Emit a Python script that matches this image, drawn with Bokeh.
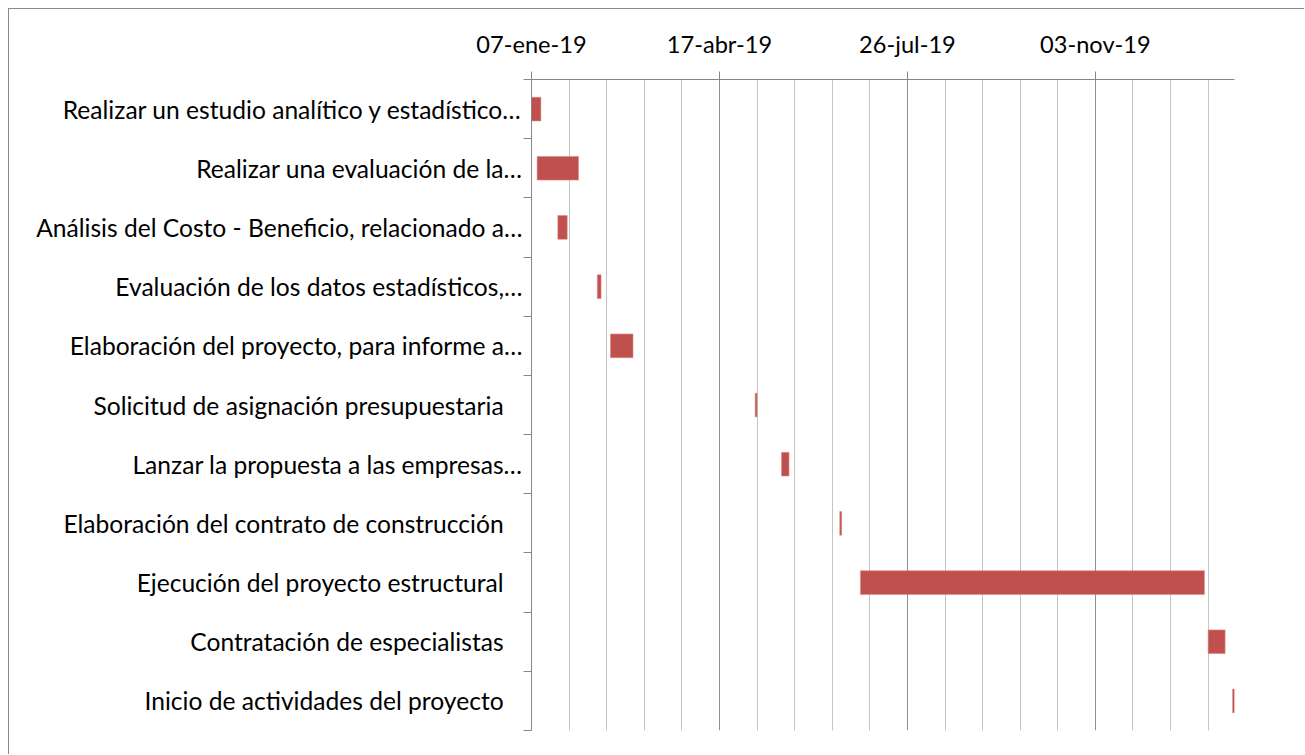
import pandas as pd
from bokeh.plotting import figure
from bokeh.models import Range1d, FixedTicker
from bokeh.embed import file_html
from bokeh.resources import INLINE

# ---- data -------------------------------------------------------------
tasks = [
    "Realizar un estudio analítico y estadístico…",
    "Realizar una evaluación de la…",
    "Análisis del Costo - Beneficio, relacionado a…",
    "Evaluación de los datos estadísticos,…",
    "Elaboración del proyecto, para informe a…",
    "Solicitud de asignación presupuestaria",
    "Lanzar la propuesta a las empresas…",
    "Elaboración del contrato de construcción",
    "Ejecución del proyecto estructural",
    "Contratación de especialistas",
    "Inicio de actividades del proyecto",
]
start_dates = [
    "2019-01-07", "2019-01-10", "2019-01-21", "2019-02-11", "2019-02-18",
    "2019-05-06", "2019-05-20", "2019-06-20", "2019-07-01", "2020-01-02",
    "2020-01-15",
]
durations = [5, 22, 5, 2, 12, 1, 4, 1, 183, 9, 1]

axis_start = "2019-01-07"
axis_end = "2020-01-16"
tick_dates = ["2019-01-07", "2019-04-17", "2019-07-26", "2019-11-03"]
tick_labels = ["07-ene-19", "17-abr-19", "26-jul-19", "03-nov-19"]
minor_step_days = 20

# ---- derived ----------------------------------------------------------
origin = pd.Timestamp(axis_start)
starts = [(pd.Timestamp(d) - origin).days for d in start_dates]
ends = [s + d for s, d in zip(starts, durations)]
rows = [i + 0.5 for i in range(len(tasks))]
major_ticks = [(pd.Timestamp(d) - origin).days for d in tick_dates]
end_day = (pd.Timestamp(axis_end) - origin).days
minor_ticks = [d for d in range(0, end_day, minor_step_days) if d not in major_ticks]

FONT = "Lato"
AXIS_COL = "#868686"

p = figure(
    width=1296, height=746,
    x_range=Range1d(0, end_day), y_range=Range1d(len(tasks), 0),
    x_axis_location="above",
    output_backend="svg", toolbar_location=None, title=None,
    min_border_left=522, min_border_top=70, min_border_right=71, min_border_bottom=25,
)
p.styles = {
    "margin-left": "8px", "margin-top": "8px",
    "border-left": "1px solid #8a8a8a", "border-top": "1px solid #8a8a8a",
}
p.outline_line_color = None
p.background_fill_color = "white"
p.border_fill_color = "white"

p.hbar(y=rows, left=starts, right=ends, height=0.4,
       fill_color="#C0504D", line_color="#D88A88", line_width=0.6)

# x axis (top)
xt = FixedTicker(ticks=major_ticks, minor_ticks=minor_ticks)
xa = p.xaxis[0]
xa.ticker = xt
xa.major_label_overrides = {t: lab for t, lab in zip(major_ticks, tick_labels)}
xa.axis_line_color = AXIS_COL
xa.major_tick_line_color = AXIS_COL
xa.major_tick_out = 8
xa.major_tick_in = 0
xa.minor_tick_out = 0
xa.minor_tick_in = 0
xa.major_label_standoff = 14
xa.major_label_text_font = FONT
xa.major_label_text_font_size = "23.6px"
xa.major_label_text_color = "black"

p.xgrid.ticker = xt
p.xgrid.grid_line_color = "#8e8e8e"
p.xgrid.minor_grid_line_color = "#c4c4c4"
p.ygrid.grid_line_color = None

# y axis (categories)
yt = FixedTicker(ticks=rows, minor_ticks=list(range(len(tasks) + 1)))
ya = p.yaxis[0]
ya.ticker = yt
ya.major_label_overrides = {
    r: (t if t.endswith("…") else t + "\u00a0" * 3) for r, t in zip(rows, tasks)
}
ya.axis_line_color = AXIS_COL
ya.major_tick_out = 0
ya.major_tick_in = 0
ya.minor_tick_line_color = AXIS_COL
ya.minor_tick_out = 8
ya.minor_tick_in = 0
ya.major_label_standoff = 1
ya.major_label_text_font = FONT
ya.major_label_text_font_size = "24.6px"
ya.major_label_text_color = "black"

open("out.html", "w").write(file_html(p, INLINE))
